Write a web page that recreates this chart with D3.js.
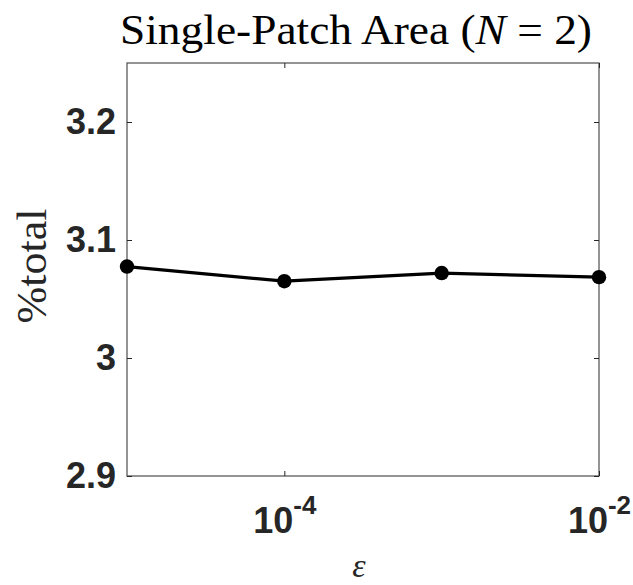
<!DOCTYPE html>
<html>
<head>
<meta charset="utf-8">
<script src="https://cdn.jsdelivr.net/npm/d3@7"></script>
<style>
  html, body { margin: 0; padding: 0; background: #fff; }
  svg { display: block; }
</style>
</head>
<body>
<svg id="chart" width="633" height="585"></svg>
<script>
// Perturbation size and resulting single-patch area share
const epsilonValues = [1e-5, 1e-4, 1e-3, 1e-2];
const percentTotal = [3.0775, 3.0651, 3.0720, 3.0685];
const yTicks = [2.9, 3.0, 3.1, 3.2];
const yTickLabels = ["2.9", "3", "3.1", "3.2"];
const xTicks = [1e-4, 1e-2];
const xTickExponents = ["-4", "-2"];

const svg = d3.select("#chart");
const margin = { left: 127, right: 34, top: 63, bottom: 109 };
const W = 633, H = 585;
const plotW = W - margin.left - margin.right;
const plotH = H - margin.top - margin.bottom;
const axisColor = "#262626";
const sans = "'Liberation Sans', Arial, sans-serif";
const serif = "'Liberation Serif', 'Times New Roman', serif";

const x = d3.scaleLog().domain([1e-5, 1e-2]).range([0, plotW]);
const y = d3.scaleLinear().domain([2.9, 3.25]).range([plotH, 0]);

const g = svg.append("g").attr("transform", `translate(${margin.left},${margin.top})`);

// Frame
g.append("rect")
  .attr("x", 0).attr("y", 0).attr("width", plotW).attr("height", plotH)
  .attr("fill", "none").attr("stroke", "#4d4d4d").attr("stroke-width", 1.2);

function styleAxis(sel) {
  sel.select(".domain").remove();
  sel.selectAll(".tick line").attr("stroke", axisColor).attr("stroke-width", 1);
}

// Left axis with labels
const yLeft = g.append("g")
  .call(d3.axisLeft(y).tickValues(yTicks).tickSize(-5).tickPadding(11)
    .tickFormat((d, i) => yTickLabels[i]));
styleAxis(yLeft);
yLeft.selectAll(".tick text")
  .attr("fill", axisColor)
  .style("font-family", sans)
  .style("font-weight", "bold")
  .style("font-size", "36px");

// Right axis ticks
const yRight = g.append("g").attr("transform", `translate(${plotW},0)`)
  .call(d3.axisRight(y).tickValues(yTicks).tickSize(-5).tickFormat(() => ""));
styleAxis(yRight);

// Bottom axis with power-of-ten labels
const xBottom = g.append("g").attr("transform", `translate(0,${plotH})`)
  .call(d3.axisBottom(x).tickValues(xTicks).tickSize(-5).tickFormat(() => ""));
styleAxis(xBottom);
xBottom.selectAll(".tick").each(function (d, i) {
  const t = d3.select(this).append("text")
    .attr("y", 57)
    .attr("text-anchor", "middle")
    .attr("fill", axisColor)
    .style("font-family", sans)
    .style("font-weight", "bold")
    .style("font-size", "36px");
  t.append("tspan").text("10");
  t.append("tspan").attr("dy", -19).style("font-size", "26px").text(xTickExponents[i]);
});

// Top axis ticks
const xTop = g.append("g")
  .call(d3.axisTop(x).tickValues(xTicks).tickSize(-5).tickFormat(() => ""));
styleAxis(xTop);

// Data line and markers
const line = d3.line().x((d, i) => x(epsilonValues[i])).y(d => y(d));
g.append("path")
  .datum(percentTotal)
  .attr("d", line)
  .attr("fill", "none")
  .attr("stroke", "#000")
  .attr("stroke-width", 3.2)
  .attr("stroke-linejoin", "round");

g.selectAll("circle.pt")
  .data(percentTotal)
  .join("circle")
  .attr("class", "pt")
  .attr("cx", (d, i) => x(epsilonValues[i]))
  .attr("cy", d => y(d))
  .attr("r", 7.2)
  .attr("fill", "#000");

// Title
const title = svg.append("text")
  .attr("x", 356).attr("y", 44)
  .attr("text-anchor", "middle")
  .attr("fill", "#000")
  .attr("textLength", 472)
  .attr("lengthAdjust", "spacingAndGlyphs")
  .style("font-family", serif)
  .style("font-size", "42px");
title.append("tspan").text("Single-Patch Area (");
title.append("tspan").style("font-style", "italic").text("N");
title.append("tspan").text(" = 2)");

// Y label
svg.append("text")
  .attr("transform", "translate(46,266) rotate(-90)")
  .attr("text-anchor", "middle")
  .attr("fill", axisColor)
  .attr("textLength", 115)
  .attr("lengthAdjust", "spacingAndGlyphs")
  .style("font-family", serif)
  .style("font-size", "42px")
  .text("%total");

// X label
svg.append("text")
  .attr("x", 359).attr("y", 577)
  .attr("text-anchor", "middle")
  .attr("fill", axisColor)
  .style("font-family", serif)
  .style("font-style", "italic")
  .style("font-size", "34px")
  .text("ε");
</script>
</body>
</html>
